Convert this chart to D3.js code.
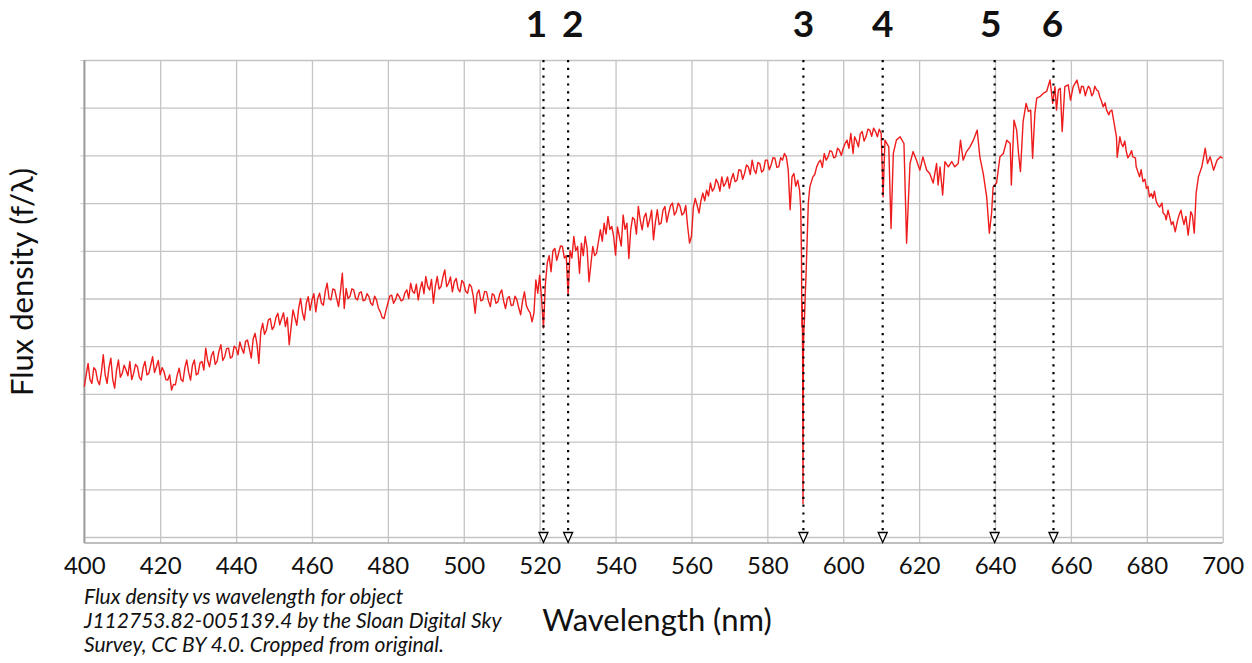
<!DOCTYPE html>
<html>
<head>
<meta charset="utf-8">
<script src="https://cdn.jsdelivr.net/npm/d3@7"></script>
<style>
    body { margin: 0; background: #fff; }
    svg { display: block; font-family: Lato, "Open Sans", sans-serif; }
</style>
</head>
<body>
<div id="chart"></div>
<script>
// x ticks (nm) and horizontal grid steps (arbitrary flux units)
const xTicks = [400, 420, 440, 460, 480, 500, 520, 540, 560, 580, 600, 620, 640, 660, 680, 700];
const yGrid = [0, 1, 2, 3, 4, 5, 6, 7, 8, 9, 10];

// marked absorption lines (nm) and their labels
const lineWavelengths = [521.0, 527.5, 589.5, 610.4, 639.9, 655.4];
const lineLabels = ["1", "2", "3", "4", "5", "6"];

// spectrum: [wavelength nm, flux]
const spectrum = [
    [400, 3.15], [401, 3.64], [402, 3.22], [403, 3.50], [404, 3.19], [405, 3.82], [406, 3.22], [407, 3.75],
    [408, 3.12], [409, 3.71], [410, 3.43], [411, 3.50], [412, 3.68], [413, 3.43], [414, 3.57], [415, 3.29],
    [416, 3.68], [417, 3.43], [418, 3.78], [419, 3.57], [420, 3.40], [421, 3.47], [422, 3.29], [423, 3.08],
    [424, 3.19], [425, 3.54], [426, 3.26], [427, 3.71], [428, 3.29], [429, 3.71], [430, 3.43], [431, 3.68],
    [432, 3.96], [433, 3.57], [434, 3.89], [435, 3.68], [436, 4.03], [437, 3.78], [438, 3.96], [439, 3.78],
    [440, 3.96], [441, 4.09], [442, 3.85], [443, 4.13], [444, 3.75], [445, 4.27], [446, 3.64], [447, 4.48],
    [448, 4.34], [449, 4.58], [450, 4.41], [451, 4.69], [452, 4.58], [453, 4.41], [454, 4.03], [455, 4.76],
    [456, 4.44], [457, 5.00], [458, 4.55], [459, 5.04],
    [460, 4.97], [461, 4.72], [462, 5.11], [463, 4.86], [464, 5.32], [465, 4.97], [466, 5.18], [467, 4.83],
    [468, 5.53], [468.5, 4.79], [469, 5.21], [470, 5.04], [471, 5.18], [472, 4.97], [473, 5.14], [474, 4.97],
    [475, 5.04], [476, 4.86], [477, 4.97], [478, 4.72], [479, 4.58], [480, 4.90], [481, 5.07], [482, 4.97],
    [483, 5.04], [484, 4.97], [485, 5.18], [486, 5.32], [487, 5.11], [488, 4.97], [489, 5.35], [490, 5.46],
    [491, 5.18], [492, 4.90], [493, 5.46], [494, 5.25], [495, 5.60], [496, 5.32], [497, 5.14], [498, 5.42],
    [499, 5.14], [500, 5.32], [501, 5.11], [502, 5.25], [503, 4.69], [504, 5.18], [505, 4.97], [506, 5.14],
    [507, 4.83], [508, 5.07], [509, 4.93], [510, 5.18], [511, 4.79], [512, 5.04], [513, 4.86], [514, 4.97],
    [515, 4.66], [516, 5.14], [517, 4.76], [518, 4.51], [518.5, 4.70], [519, 5.39], [519.5, 5.11], [520, 5.49],
    [520.5, 5.00], [521, 4.38], [521.5, 5.30],
    [522, 5.74], [523, 5.56], [523.5, 6.00], [524, 6.05], [525, 5.95], [526, 6.09], [527, 5.90], [527.5, 5.07],
    [528, 6.00], [529, 6.30], [530, 6.09], [530.5, 5.53], [531, 6.16], [532, 6.30], [533, 5.35], [534, 6.09],
    [535, 5.95], [536, 6.44], [537, 6.58], [538, 6.72], [539, 6.51], [540, 5.91], [541, 6.30], [542, 6.75],
    [543, 6.58], [543.5, 5.84], [544, 6.44], [545, 6.65], [546, 6.93], [547, 6.44], [548, 6.79], [549, 6.65],
    [550, 6.23], [551, 6.86], [552, 6.58], [553, 6.93], [554, 6.79], [555, 7.00], [556, 6.82], [557, 6.93],
    [558, 6.79], [559, 6.51], [559.5, 6.16], [560, 6.30], [561, 7.10], [562, 6.79], [563, 7.21], [564, 7.27],
    [565, 7.42], [566, 7.31], [567, 7.42], [568, 7.55], [569, 7.42], [570, 7.31], [571, 7.62], [572, 7.48],
    [573, 7.69], [574, 7.62], [575, 7.76], [576, 7.90], [577, 7.62], [578, 7.83], [579, 7.69], [580, 7.90],
    [581, 7.80], [582, 7.94], [583, 7.76], [584, 7.90], [584.5, 8.04], [585, 7.97], [585.5, 7.70], [586, 6.86],
    [586.5, 7.55], [587, 7.62], [587.5, 7.35], [588, 7.48], [588.5, 7.27], [588.8, 6.90],
    [589.0, 5.90], [589.1, 4.40], [589.2, 4.90], [589.3, 3.80], [589.4, 0.70], [589.5, 3.90], [589.6, 4.30],
    [589.8, 4.60], [590.0, 5.10], [590.2, 5.50], [590.4, 6.00], [590.8, 7.00], [591.2, 7.34],
    [592, 7.55], [593, 7.76], [594, 7.90], [595, 8.04], [596, 7.97], [597, 8.08], [598, 7.97], [599, 8.11],
    [600, 8.15], [601, 8.32], [602, 8.46], [602.6, 8.04], [603, 8.39], [604, 8.18], [605, 8.50], [606, 8.39],
    [607, 8.53], [608, 8.57], [609, 8.39], [610, 8.46], [610.5, 7.13], [611, 8.32], [612, 8.18], [612.6, 6.47],
    [613.2, 8.04], [614, 8.32], [615, 8.39], [616, 8.25], [616.7, 6.16], [617.1, 6.92], [617.6, 7.83],
    [618.4, 8.08], [619.3, 7.90], [620.2, 7.69], [621, 7.97], [622, 7.69], [622.8, 7.62], [623.7, 7.42],
    [624.6, 7.83], [625, 7.38], [625.5, 7.76], [626.2, 7.17], [626.8, 7.87], [627.7, 7.76], [628.6, 7.87],
    [629.4, 7.76], [630.3, 7.83], [630.9, 8.32], [631.6, 7.90], [632.5, 8.08], [633.4, 8.18], [634.3, 8.32],
    [635.3, 8.53], [636, 7.97], [636.9, 7.62], [637.8, 7.13], [638.5, 6.37], [639.1, 6.79], [639.5, 7.34],
    [640.4, 7.42], [641.3, 7.97], [642.2, 8.04], [643.1, 8.32], [644, 8.25], [644.3, 7.38],
    [645, 8.74], [645.7, 8.53], [646.2, 8.04], [646.7, 7.66], [647.4, 8.71], [648.2, 9.09], [648.8, 8.92],
    [649.4, 8.95], [649.9, 7.94], [650.5, 8.88], [651, 9.20], [651.8, 9.23], [652.7, 9.30], [653.6, 9.34],
    [654.5, 9.58], [655.2, 9.09], [655.8, 9.44], [656.2, 8.95], [656.7, 9.37], [657.2, 9.41], [657.7, 8.50],
    [658.4, 9.44], [659.3, 9.48], [659.9, 9.16], [660.6, 9.44], [661.6, 9.58], [662.4, 9.30], [663.3, 9.44],
    [664.1, 9.34], [665, 9.41], [665.9, 9.30], [666.8, 9.37], [667.6, 9.23], [668.5, 9.02], [669.4, 8.95],
    [670.3, 8.92], [671.1, 8.81], [672, 8.39], [672.2, 7.96], [672.9, 8.39], [673.7, 8.18], [674.6, 8.08],
    [675.5, 8.01], [676.3, 7.97], [677.2, 7.76], [678.1, 7.55], [679, 7.45], [679.9, 7.31], [680.7, 7.13],
    [681.6, 7.10], [682.5, 7.03], [683.4, 6.92], [684.3, 6.79], [685.1, 6.65], [686, 6.72], [686.9, 6.61],
    [687.5, 6.40], [688.5, 6.75], [689.4, 6.68], [690.3, 6.72], [690.9, 6.33], [691.6, 6.82], [692.5, 6.37],
    [693, 7.21], [693.6, 7.55], [694.5, 7.76], [695.4, 8.15], [696, 7.83], [696.7, 7.97], [697.6, 7.69],
    [698.5, 7.90], [699.4, 7.97], [700, 7.94]
];

// extra readings inside the noisy band, between the main ones
const spectrumHalf = [
    [400.5, 3.40], [401.5, 3.30], [402.5, 3.55], [403.5, 3.28], [404.5, 3.45], [405.5, 3.40], [406.5, 3.55],
    [407.5, 3.30], [408.5, 3.50], [409.5, 3.35], [410.5, 3.60], [411.5, 3.38], [412.5, 3.30], [413.5, 3.62],
    [414.5, 3.35], [415.5, 3.55], [416.5, 3.40], [417.5, 3.60], [418.5, 3.45], [419.5, 3.70], [420.5, 3.55],
    [421.5, 3.30], [422.5, 3.40], [423.5, 3.20], [424.5, 3.40], [425.5, 3.30], [426.5, 3.55], [427.5, 3.45],
    [428.5, 3.60], [429.5, 3.40], [430.5, 3.65], [431.5, 3.50], [432.5, 3.70], [433.5, 3.80], [434.5, 3.62],
    [435.5, 3.90], [436.5, 3.70], [437.5, 3.95], [438.5, 3.75], [439.5, 4.00], [440.5, 3.82], [441.5, 3.95],
    [442.5, 4.10], [443.5, 3.95], [444.5, 4.15], [445.5, 4.05], [446.5, 4.30], [447.5, 4.25], [448.5, 4.55],
    [449.5, 4.35], [450.5, 4.60], [451.5, 4.45], [452.5, 4.70], [453.5, 4.60], [454.5, 4.40], [455.5, 4.60],
    [456.5, 4.80], [457.5, 4.70], [458.5, 4.90], [459.5, 4.75],
    [460.5, 5.10], [461.5, 5.00], [462.5, 4.90], [463.5, 5.15], [464.5, 5.00], [465.5, 5.20], [466.5, 5.00],
    [467.5, 5.15], [469.5, 5.00], [470.5, 5.20], [471.5, 5.00], [472.5, 5.12], [473.5, 4.95], [474.5, 5.10],
    [475.5, 4.90], [476.5, 5.05], [477.5, 4.80], [478.5, 4.60], [479.5, 4.75], [480.5, 5.05], [481.5, 4.90],
    [482.5, 5.10], [483.5, 4.95], [484.5, 5.12], [485.5, 5.00], [486.5, 5.15], [487.5, 5.30], [488.5, 5.20],
    [489.5, 5.10], [490.5, 5.25], [491.5, 5.40], [492.5, 5.25], [493.5, 5.20], [494.5, 5.45], [495.5, 5.25],
    [496.5, 5.45], [497.5, 5.35], [498.5, 5.20], [499.5, 5.38], [500.5, 5.15], [501.5, 5.30], [502.5, 5.05],
    [503.5, 5.10], [504.5, 4.95], [505.5, 5.15], [506.5, 4.95], [507.5, 5.10], [508.5, 4.90], [509.5, 5.10],
    [510.5, 4.95], [511.5, 5.00], [512.5, 4.85], [513.5, 5.05], [514.5, 4.80], [515.5, 4.95], [516.5, 4.85],
    [517.5, 4.70],
    [522.5, 5.90], [524.5, 5.80], [525.5, 6.10], [526.5, 5.85], [528.5, 5.85], [529.5, 6.00], [531.5, 5.90],
    [532.5, 6.05], [534.5, 5.90], [535.5, 6.20], [536.5, 6.20], [537.5, 6.35], [538.5, 6.45], [539.5, 6.30],
    [540.5, 6.50], [541.5, 6.10], [542.5, 6.45], [544.5, 6.70], [545.5, 6.35], [546.5, 6.65], [547.5, 6.70],
    [548.5, 6.50], [549.5, 6.85], [550.5, 6.60], [551.5, 6.55], [552.5, 6.85], [553.5, 6.60], [554.5, 6.95],
    [555.5, 6.75], [556.5, 7.00], [557.5, 6.75], [558.5, 6.95], [560.5, 6.90], [561.5, 6.95], [562.5, 7.05],
    [563.5, 7.05], [564.5, 7.15], [565.5, 7.25], [566.5, 7.50], [567.5, 7.25], [568.5, 7.35], [569.5, 7.55],
    [570.5, 7.50], [571.5, 7.45], [572.5, 7.70], [573.5, 7.50], [574.5, 7.80], [575.5, 7.60], [576.5, 7.70],
    [577.5, 7.85], [578.5, 7.65], [579.5, 7.90], [580.5, 7.70], [581.5, 7.95], [582.5, 7.75], [583.5, 7.95],
    [592.5, 7.60], [593.5, 7.85], [594.5, 7.75], [595.5, 7.90], [596.5, 8.10], [597.5, 7.95], [598.5, 8.15],
    [599.5, 8.00], [600.5, 8.25], [601.5, 8.15], [603.5, 8.30], [604.5, 8.45], [605.5, 8.30], [606.5, 8.55],
    [607.5, 8.40], [608.5, 8.50], [609.5, 8.55],
    [662.8, 9.45], [663.8, 9.25], [664.6, 9.45], [665.5, 9.25], [666.3, 9.45], [667.2, 9.35], [668.0, 9.15],
    [669.0, 9.10], [670.0, 8.85], [670.8, 8.95], [673.3, 8.25], [674.2, 8.30], [675.0, 7.95], [676.0, 8.10],
    [677.0, 7.95], [678.5, 7.70], [679.5, 7.50], [680.3, 7.35], [681.2, 7.20], [682.0, 7.25], [683.0, 6.95],
    [684.0, 7.00], [684.8, 6.75], [685.6, 6.85], [686.5, 6.55], [688.0, 6.60], [689.0, 6.85], [689.8, 6.55],
    [691.3, 6.60], [692.0, 6.75]
];

const captionLines = [
    "Flux density vs wavelength for object",
    "J112753.82-005139.4 by the Sloan Digital Sky",
    "Survey, CC BY 4.0. Cropped from original."
];

const ctx = {
    W: 1252,
    H: 663,
    left: 84.3,
    right: 1222.7,
    top: 60,
    bottom: 537,
    axisY: 543,
};

function drawChart() {
    const svg = d3.select("#chart").append("svg")
        .attr("width", ctx.W)
        .attr("height", ctx.H);

    const x = d3.scaleLinear().domain([400, 700]).range([ctx.left, ctx.right]);
    const y = d3.scaleLinear().domain([0, 10]).range([ctx.bottom, ctx.top]);

    // vertical grid
    svg.append("g")
        .attr("transform", `translate(0,${ctx.axisY})`)
        .call(d3.axisBottom(x).tickValues(xTicks).tickSize(-(ctx.axisY - ctx.top)).tickFormat(""))
        .call(g => g.select(".domain").remove())
        .call(g => g.selectAll("line").attr("stroke", "#c4c4c4").attr("stroke-width", 1.3));

    // horizontal grid
    svg.append("g")
        .attr("transform", `translate(${ctx.left},0)`)
        .call(d3.axisLeft(y).tickValues(yGrid).tickSize(-(ctx.right - ctx.left)).tickFormat(""))
        .call(g => g.select(".domain").remove())
        .call(g => g.selectAll("line").attr("stroke", "#c4c4c4").attr("stroke-width", 1.3));

    // short ticks left of the axis
    svg.append("g")
        .attr("transform", `translate(${ctx.left},0)`)
        .call(d3.axisLeft(y).tickValues(yGrid.slice(1)).tickSize(4).tickFormat(""))
        .call(g => g.select(".domain").remove())
        .call(g => g.selectAll("line").attr("stroke", "#d0d0d0"));

    // axis lines
    svg.append("line")
        .attr("x1", ctx.left).attr("x2", ctx.left)
        .attr("y1", ctx.top).attr("y2", ctx.axisY)
        .attr("stroke", "#9a9a9a").attr("stroke-width", 1.8);
    svg.append("line")
        .attr("x1", ctx.left).attr("x2", ctx.right)
        .attr("y1", ctx.axisY).attr("y2", ctx.axisY)
        .attr("stroke", "#a8a8a8").attr("stroke-width", 1.5);

    // x tick labels
    svg.append("g")
        .attr("transform", `translate(0,${ctx.axisY})`)
        .call(d3.axisBottom(x).tickValues(xTicks).tickSize(0).tickPadding(14))
        .call(g => g.select(".domain").remove())
        .call(g => g.selectAll("text")
            .attr("font-family", "Lato, sans-serif")
            .attr("font-size", "24px")
            .attr("fill", "#111"));

    // spectrum: main and in-between readings merged in wavelength order
    const points = spectrum.concat(spectrumHalf).sort((a, b) => a[0] - b[0]);

    const line = d3.line()
        .x(d => x(d[0]))
        .y(d => y(d[1]));

    svg.append("path")
        .datum(points)
        .attr("d", line)
        .attr("fill", "none")
        .attr("stroke", "#ee1c1c")
        .attr("stroke-width", 1.4)
        .attr("stroke-linejoin", "round");

    // marked lines: dotted verticals, triangles, numbers
    const labelShift = [-7, 4.5, 0, 0, -4, -1];
    const marks = svg.append("g").selectAll("g")
        .data(lineWavelengths)
        .enter()
        .append("g");

    marks.append("line")
        .attr("x1", d => x(d)).attr("x2", d => x(d))
        .attr("y1", ctx.top).attr("y2", ctx.axisY - 10)
        .attr("stroke", "#000")
        .attr("stroke-width", 2.2)
        .attr("stroke-dasharray", "2.2,5.6");

    marks.append("path")
        .attr("d", d => `M${x(d) - 4.5},${ctx.axisY - 10.5}L${x(d) + 4.5},${ctx.axisY - 10.5}L${x(d)},${ctx.axisY - 0.5}Z`)
        .attr("fill", "#fff")
        .attr("stroke", "#000")
        .attr("stroke-width", 1.3);

    marks.append("text")
        .attr("x", (d, i) => x(d) + labelShift[i])
        .attr("y", 37)
        .attr("text-anchor", "middle")
        .attr("font-size", "37px")
        .attr("font-weight", "bold")
        .attr("fill", "#111")
        .text((d, i) => lineLabels[i]);

    // axis titles
    svg.append("text")
        .attr("x", 657)
        .attr("y", 631)
        .attr("text-anchor", "middle")
        .attr("font-size", "31px")
        .attr("fill", "#111")
        .text("Wavelength (nm)");

    svg.append("text")
        .attr("transform", "translate(33,282) rotate(-90)")
        .attr("text-anchor", "middle")
        .attr("font-size", "31px")
        .attr("fill", "#111")
        .text("Flux density (f/λ)");

    // caption
    svg.append("g").selectAll("text")
        .data(captionLines)
        .enter()
        .append("text")
        .attr("x", 84)
        .attr("y", (d, i) => 604 + i * 24)
        .attr("font-size", "21px")
        .attr("font-style", "italic")
        .attr("fill", "#111")
        .text(d => d);
}

drawChart();
</script>
</body>
</html>
